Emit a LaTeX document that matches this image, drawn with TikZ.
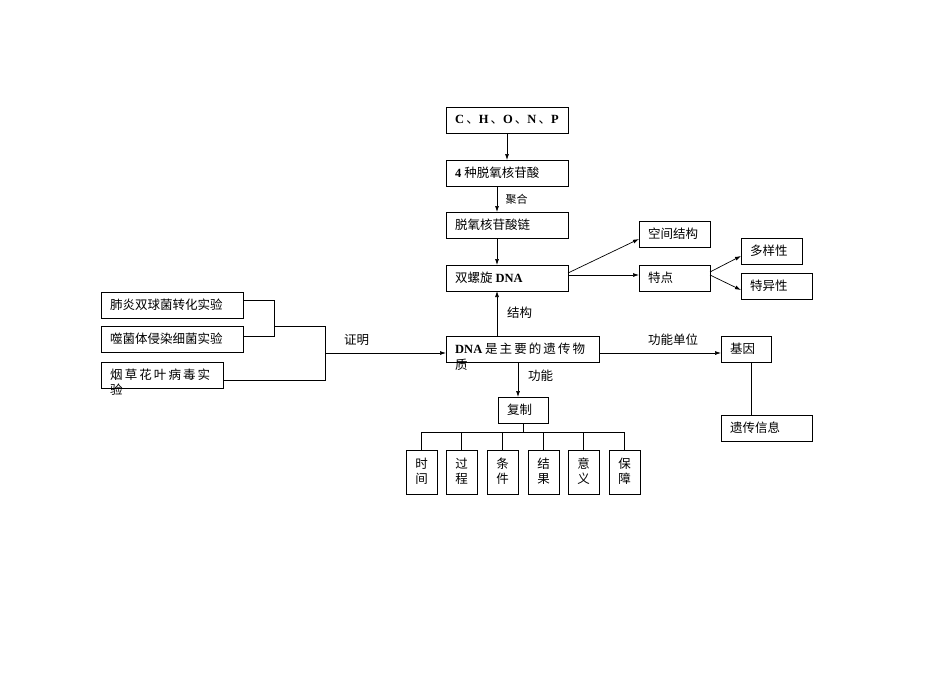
\documentclass[tikz,border=0pt]{standalone}
\usepackage{fontspec}
\usetikzlibrary{arrows.meta}
\setmainfont{Liberation Serif}
\newfontfamily\cjk{Noto Sans CJK SC}
\newcommand{\Lt}[1]{{\rmfamily\bfseries #1}}
\newcommand{\Bx}[6]{\node[bx,minimum width=#4-#2,minimum height=#5-#3] (#1) at ({(#2+#4)/2},{(#3+#5)/2}) {};
  \node[tx] at ({#2+9},{(#3+#5)/2}) {#6};}
\begin{document}
\begin{tikzpicture}[x=1pt,y=-1pt,font=\cjk\fontsize{12.5}{15}\selectfont,
  bx/.style={draw,line width=0.7pt,inner sep=0pt},
  tx/.style={anchor=west,inner sep=0pt},
  ln/.style={line width=0.7pt},
  ar/.style={ln,-{Latex[length=6pt,width=4pt]}}]
\useasboundingbox (0,0) rectangle (950,672);
\Bx{a}{446}{107}{568}{133}{\Lt{C\,}{\cjk、}\Lt{H\,}{\cjk、}\Lt{O\,}{\cjk、}\Lt{N\,}{\cjk、}\Lt{P}}
\Bx{b}{446}{160}{568}{186}{\Lt{4} 种脱氧核苷酸}
\Bx{c}{446}{212}{568}{238}{脱氧核苷酸链}
\Bx{d}{446}{265}{568}{291}{双螺旋 \Lt{DNA}}
\Bx{e}{639}{221}{710}{247}{空间结构}
\Bx{f}{639}{265}{710}{291}{特点}
\Bx{g}{741}{238}{802}{264}{多样性}
\Bx{h}{741}{273}{812}{299}{特异性}
\Bx{p1}{101}{292}{243}{318}{肺炎双球菌转化实验}
\Bx{p2}{101}{326}{243}{352}{噬菌体侵染细菌实验}
\Bx{p3}{101}{362}{223}{388}{烟\,草\,花\,叶\,病\,毒\,实}
\node[tx] (p3b) at (110,390) {验};
\Bx{m}{446}{336}{599}{362}{\Lt{DNA} 是\,主\,要\,的\,遗\,传\,物}
\node[tx] (m2) at (455,365) {质};
\Bx{j}{721}{336}{771}{362}{基因}
\Bx{k}{721}{415}{812}{441}{遗传信息}
\Bx{r}{498}{397}{548}{423}{复制}
\foreach \n/\x/\t in {s1/406/{时\\间},s2/446/{过\\程},s3/487/{条\\件},s4/528/{结\\果},s5/568/{意\\义},s6/609/{保\\障}}{
  \node[bx,minimum width=31,minimum height=44] (\n) at ({\x+15.5},472) {};
  \node[align=center,inner sep=0pt] at ({\x+15.5},471) {\t};
  \draw[ln] ({\x+15.5},432) -- (\n.north);
}
\draw[ln] (r.south) -- (523,432);
\draw[ln] (421.5,432) -- (624.5,432);
\draw[ar] (507,133) -- (507,160);
\draw[ar] (497,186) -- (497,212) node[midway,right=5pt,font=\cjk\fontsize{11}{13}\selectfont] {聚合};
\draw[ar] (497,238) -- (497,265);
\draw[ar] (568,273) -- (639,239);
\draw[ar] (568,275) -- (639,275);
\draw[ar] (710,272) -- (741,256);
\draw[ar] (710,275) -- (741,290);
\draw[ar] (497,336) -- (497,291);
\node[tx] at (507,313) {结构};
\draw[ar] (518,362) -- (518,397);
\node[tx] at (528,376) {功能};
\draw[ar] (599,353) -- (721,353);
\node[tx] at (648,340) {功能单位};
\draw[ln] (751,362) -- (751,415);
\draw[ln] (243,300) -- (274,300) -- (274,336) -- (243,336);
\draw[ln] (274,326) -- (325,326) -- (325,380) -- (223,380);
\draw[ar] (325,353) -- (446,353);
\node[tx] at (344,340) {证明};
\end{tikzpicture}
\end{document}
